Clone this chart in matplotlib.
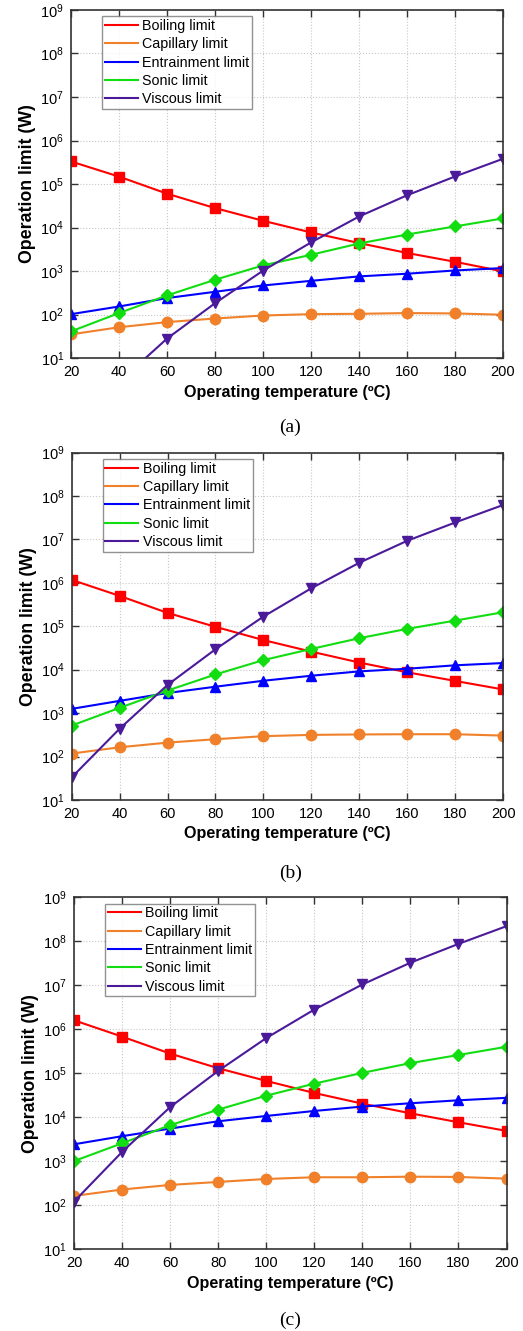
import numpy as np
import matplotlib
matplotlib.use('Agg')
import matplotlib.pyplot as plt
from matplotlib.ticker import LogLocator, NullLocator

plt.rcParams['font.family'] = ['Liberation Sans', 'DejaVu Sans']
plt.rcParams['mathtext.fontset'] = 'custom'
plt.rcParams['mathtext.rm'] = 'Liberation Sans'

temp = [20, 40, 60, 80, 100, 120, 140, 160, 180, 200]

# (a)
boil_a = [3.3e5, 1.48e5, 6.0e4, 2.8e4, 1.43e4, 7.7e3, 4.4e3, 2.6e3, 1.63e3, 980]
cap_a = [35, 51, 67, 81, 95, 102, 104, 108, 106, 99]
ent_a = [102, 153, 239, 333, 465, 595, 752, 867, 1030, 1170]
son_a = [41, 108, 275, 630, 1345, 2360, 4290, 6900, 1.06e4, 1.62e4]
vis_a = [0.15, 2.8, 28, 182, 1020, 4540, 1.79e4, 5.5e4, 1.49e5, 3.8e5]

# (b)
boil_b = [1.17e6, 5.0e5, 2.03e5, 9.7e4, 4.8e4, 2.6e4, 1.46e4, 8.7e3, 5.5e3, 3.5e3]
cap_b = [117, 163, 209, 250, 294, 315, 322, 326, 326, 303]
ent_b = [1250, 1910, 2900, 4050, 5550, 7250, 9130, 1.05e4, 1.26e4, 1.42e4]
son_b = [516, 1320, 3300, 7750, 1.66e4, 3.0e4, 5.3e4, 8.7e4, 1.35e5, 2.1e5]
vis_b = [33, 436, 4450, 2.95e4, 1.67e5, 7.5e5, 2.9e6, 9.3e6, 2.45e7, 6.2e7]

# (c)
boil_c = [1.6e6, 6.8e5, 2.8e5, 1.3e5, 6.7e4, 3.56e4, 2.04e4, 1.23e4, 7.7e3, 4.9e3]
cap_c = [163, 228, 290, 339, 396, 433, 433, 446, 440, 403]
ent_c = [2430, 3710, 5530, 8100, 1.07e4, 1.39e4, 1.75e4, 2.08e4, 2.43e4, 2.76e4]
son_c = [1010, 2560, 6600, 1.49e4, 3.1e4, 5.8e4, 1.02e5, 1.7e5, 2.6e5, 4.0e5]
vis_c = [121, 1630, 1.7e4, 1.13e5, 6.3e5, 2.8e6, 1.04e7, 3.25e7, 8.7e7, 2.2e8]

names = ['Boiling limit', 'Capillary limit', 'Entrainment limit', 'Sonic limit', 'Viscous limit']
colors = ['#ff0000', '#f0802a', '#0000ff', '#11dd11', '#4b1a9a']
markers = ['s', 'o', '^', 'D', 'v']
msizes = [6.5, 7.5, 7.5, 6.5, 7.5]


def draw(ax, series):
    for y, name, c, m, ms in zip(series, names, colors, markers, msizes):
        ax.plot(temp, y, color=c, lw=1.5, marker=m, ms=ms, label=name)
    ax.set_yscale('log')
    ax.set_xlim(20, 200)
    ax.set_ylim(10, 1e9)
    ax.set_xticks(temp)
    ax.yaxis.set_major_locator(LogLocator(base=10, numticks=12))
    ax.yaxis.set_minor_locator(NullLocator())
    ax.tick_params(direction='in', top=True, right=True, length=5, width=1,
                   color='#333333', labelsize=10.5, pad=5)
    ax.grid(True, ls=':', color='#c8c8c8', lw=0.8)
    for s in ax.spines.values():
        s.set_color('#333333')
        s.set_linewidth(1.2)
    ax.set_xlabel('Operating temperature (\u00baC)', fontsize=11.6, fontweight='bold')
    ax.set_ylabel('Operation limit (W)', fontsize=12.8, fontweight='bold', labelpad=3)
    leg = ax.legend(loc='upper left', bbox_to_anchor=(0.065, 0.99), fontsize=10.3,
                    handlelength=2.3, handletextpad=0.3, labelspacing=0.3,
                    borderpad=0.2, fancybox=False, borderaxespad=0.2)
    leg.get_frame().set_edgecolor('#777777')
    leg.get_frame().set_linewidth(1.0)
    for h in leg.legend_handles:
        h.set_marker('')


fig = plt.figure(figsize=(5.23, 13.31), dpi=100)
ax1 = fig.add_axes([0.1358, 0.731, 0.826, 0.2615])
ax2 = fig.add_axes([0.1370, 0.399, 0.825, 0.261])
ax3 = fig.add_axes([0.1415, 0.0614, 0.827, 0.2645])

draw(ax1, [boil_a, cap_a, ent_a, son_a, vis_a])
draw(ax2, [boil_b, cap_b, ent_b, son_b, vis_b])
draw(ax3, [boil_c, cap_c, ent_c, son_c, vis_c])

for y, lab in [(427, '(a)'), (873, '(b)'), (1320, '(c)')]:
    fig.text(0.555, 1 - y / 1331, lab, ha='center', va='center',
             family='Liberation Serif', fontsize=14)

fig.savefig('out.png', dpi=100)
